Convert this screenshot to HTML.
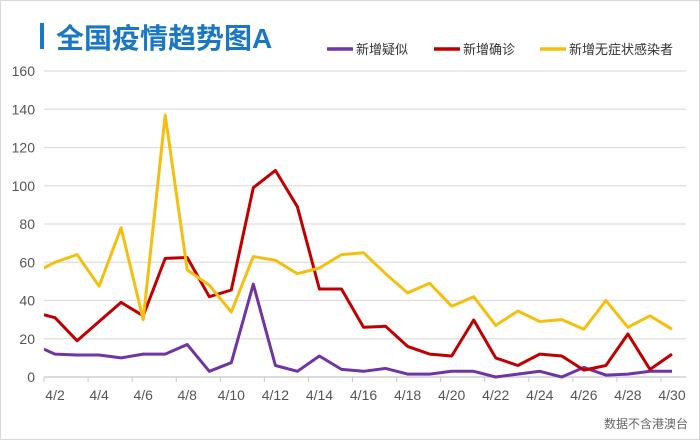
<!DOCTYPE html>
<html><head><meta charset="utf-8"><style>
html,body{margin:0;padding:0;background:#fff;}
#wrap{position:relative;width:700px;height:440px;overflow:hidden;font-family:"Liberation Sans","Noto Sans CJK SC",sans-serif;}
#frame{position:absolute;left:0;top:0;width:698px;height:438px;border:1px solid #d8d8d8;}
</style></head><body>
<div id="wrap">
<div id="frame"></div>
<svg id="chart" width="700" height="440" style="position:absolute;left:0;top:0">
<rect x="40" y="23" width="4" height="26" fill="#1a78c2"/>
<text x="56" y="48" font-size="28" font-weight="bold" fill="#1a78c2" font-family="Liberation Sans,Noto Sans CJK SC,sans-serif">全国疫情趋势图A</text>
<g id="legend"></g>
<g id="grid"></g>
<g id="yaxis"></g>
<g id="xaxis"></g>
<defs><clipPath id="plotclip"><rect x="44" y="60" width="642" height="330"/></clipPath></defs>
<g id="series" clip-path="url(#plotclip)"></g>
<text x="688" y="428" text-anchor="end" font-size="12" fill="#666" font-family="Liberation Sans,Noto Sans CJK SC,sans-serif">数据不含港澳台</text>
</svg>
</div>
<script>
const days = [];
for (let d = 1; d <= 30; d++) days.push('4/' + d);
const suspected = [17,12,11.5,11.5,10,12,12,17,3,7.5,48.5,6,3,11,4,3,4.5,1.5,1.5,3,3,0,1.5,3,0,5,1,1.5,3,3];
const confirmed = [34,31,19,29,39,32,62,62.5,42,45.5,99,108,89,46,46,26,26.5,16,12,11,29.8,10,6,12,11,3.6,6,22.5,4,12];
const asymptomatic = [54,60,64,47.5,78,30,137,56,48,34,63,61,54,57,64,65,54,44,49,37,42,27,34.5,29,30,25,40,26,32,25];
const yTicks = [0,20,40,60,80,100,120,140,160];
const seriesNames = ['新增疑似','新增确诊','新增无症状感染者'];
const seriesColors = ['#6f35a5','#c00000','#f5bf0f'];
const seriesData = [suspected, confirmed, asymptomatic];

const NS = 'http://www.w3.org/2000/svg';
const y0 = 377, y1 = 71, yMax = 160;
const xFirst = 33, xLast = 672;
function yScale(v){ return y0 - (v / yMax) * (y0 - y1); }
function xScale(i){ return xFirst + i * (xLast - xFirst) / (days.length - 1); }
function mk(tag, attrs, parent){ const e = document.createElementNS(NS, tag); for (const k in attrs) e.setAttribute(k, attrs[k]); parent.appendChild(e); return e; }

const grid = document.getElementById('grid');
const yaxis = document.getElementById('yaxis');
yTicks.forEach(t => {
  const l = mk('line', {x1:44, x2:686, y1:yScale(t), y2:yScale(t), stroke: t===0 ? '#c8c8c8' : '#dedede', 'stroke-width':1.2}, grid);
  
  
  const tx = mk('text', {x:35, y:yScale(t)+5, 'text-anchor':'end', 'font-size':14, fill:'#555'}, yaxis);
  tx.textContent = t;
  
  
});
const xaxis = document.getElementById('xaxis');
for (let i = 1; i < days.length; i += 2) {
  const tk = mk('line', {x1:xScale(i)-11, x2:xScale(i)-11, y1:y0, y2:y0+5, stroke:'#c8c8c8'}, xaxis);
  
  
  const tx = mk('text', {x:xScale(i), y:400, 'text-anchor':'middle', 'font-size':14, fill:'#555'}, xaxis);
  tx.textContent = days[i];
  
  
}
const sg = document.getElementById('series');
seriesData.forEach((arr, s) => {
  const pts = arr.map((v, i) => xScale(i).toFixed(1) + ',' + yScale(v).toFixed(1)).join(' ');
  const pl = mk('polyline', {points:pts, fill:'none', stroke:seriesColors[s], 'stroke-width':3, 'stroke-linejoin':'round'}, sg);
  
  
});
const lg = document.getElementById('legend');
const lx = [327, 434, 540];
seriesNames.forEach((n, s) => {
  const g = mk('g', {}, lg);
  
  
  mk('line', {x1:lx[s], x2:lx[s]+26, y1:49, y2:49, stroke:seriesColors[s], 'stroke-width':3.5}, g);
  const t = mk('text', {x:lx[s]+29, y:54, 'font-size':13, fill:'#333'}, g);
  t.textContent = n;
});
</script>
</body></html>
